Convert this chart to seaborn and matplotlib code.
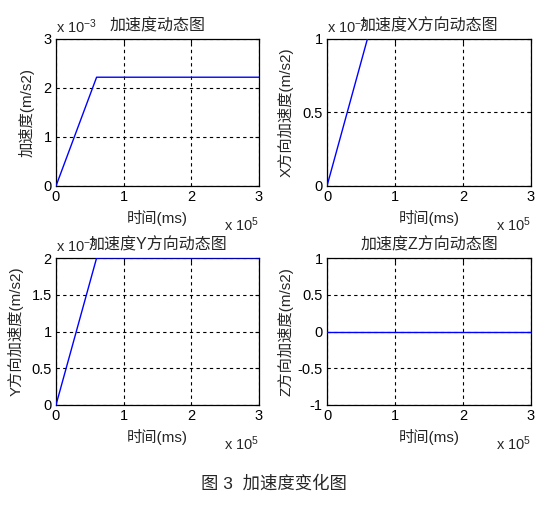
import matplotlib
matplotlib.use('Agg')
import matplotlib.pyplot as plt
import seaborn as sns
from matplotlib.ticker import FuncFormatter

# time (ms) and acceleration components (m/s2)
t = [0, 0.6e5, 3e5]
acc_total = [0, 2.22e-3, 2.22e-3]
acc_x = [0, 1.01e-3, 1.01e-3]
acc_y = [0, 2.0e-3, 2.0e-3]
acc_z = [0, 0, 0]

titles = ['加速度动态图', '加速度X方向动态图', '加速度Y方向动态图', '加速度Z方向动态图']
ylabels = ['加速度(m/s2)', 'X方向加速度(m/s2)', 'Y方向加速度(m/s2)', 'Z方向加速度(m/s2)']
xticks = [0, 1e5, 2e5, 3e5]
yticks_list = [
    [0, 1e-3, 2e-3, 3e-3],
    [0, 0.5e-3, 1e-3],
    [0, 0.5e-3, 1e-3, 1.5e-3, 2e-3],
    [-1, -0.5, 0, 0.5, 1],
]
y_scales = [1e-3, 1e-3, 1e-3, 1]
caption = '图 3  加速度变化图'

sns.set_style('white')
plt.rcParams['font.family'] = ['Liberation Sans', 'Noto Sans CJK SC']
plt.rcParams['mathtext.default'] = 'regular'
plt.rcParams['axes.unicode_minus'] = False

W, H = 554, 515
fig = plt.figure(figsize=(W / 100, H / 100), dpi=100)

# axes boxes in pixels: left, top, right, bottom
boxes = [(56, 39, 259, 186), (327, 39, 531, 186),
         (56, 258, 259, 405), (327, 258, 531, 405)]
ylabel_off = [21, 33, 32, 33]
series = [acc_total, acc_x, acc_y, acc_z]

for i in range(4):
    l, tp, r, b = boxes[i]
    ax = fig.add_axes([l / W, 1 - b / H, (r - l) / W, (b - tp) / H])
    sns.lineplot(x=t, y=series[i], ax=ax, color='#0000ff', lw=1, zorder=3)
    yt = yticks_list[i]
    ax.set_xlim(0, 3e5)
    ax.set_ylim(yt[0], yt[-1])
    ax.set_xticks(xticks)
    ax.set_yticks(yt)
    sc = y_scales[i]
    ax.xaxis.set_major_formatter(FuncFormatter(lambda v, p: f'{v / 1e5:g}'))
    ax.yaxis.set_major_formatter(FuncFormatter(lambda v, p, s=sc: f'{v / s:g}'))
    ax.tick_params(direction='in', length=3, width=0.8, labelsize=10.5, pad=3,
                   top=True, right=True, colors='black')
    ax.grid(True, color='black', linestyle=(0, (3, 3)), linewidth=0.8)
    for sp in ax.spines.values():
        sp.set_color('black')
        sp.set_linewidth(0.9)
    ax.set_title(titles[i], fontsize=11.5, pad=6)
    ax.set_xlabel('时间(ms)', fontsize=11)
    ax.xaxis.set_label_coords(0.5, -24 / (b - tp), transform=ax.transAxes)
    ax.set_ylabel(ylabels[i], fontsize=11)
    ax.yaxis.set_label_coords(-ylabel_off[i] / (r - l), 0.5)
    # MATLAB style exponent labels
    ax.text(1.0, -39 / (b - tp), r'x 10$^{5}$', transform=ax.transAxes,
            ha='right', va='center', fontsize=10.5)
    if sc != 1:
        ax.text(0.0, 1 + 12 / (b - tp), r'x 10$^{-3}$', transform=ax.transAxes,
                ha='left', va='center', fontsize=10.5, zorder=1)

fig.text(274 / W, 1 - 483 / H, caption, ha='center', va='center', fontsize=12.5)

fig.savefig('out.png', dpi=100, facecolor='white')
